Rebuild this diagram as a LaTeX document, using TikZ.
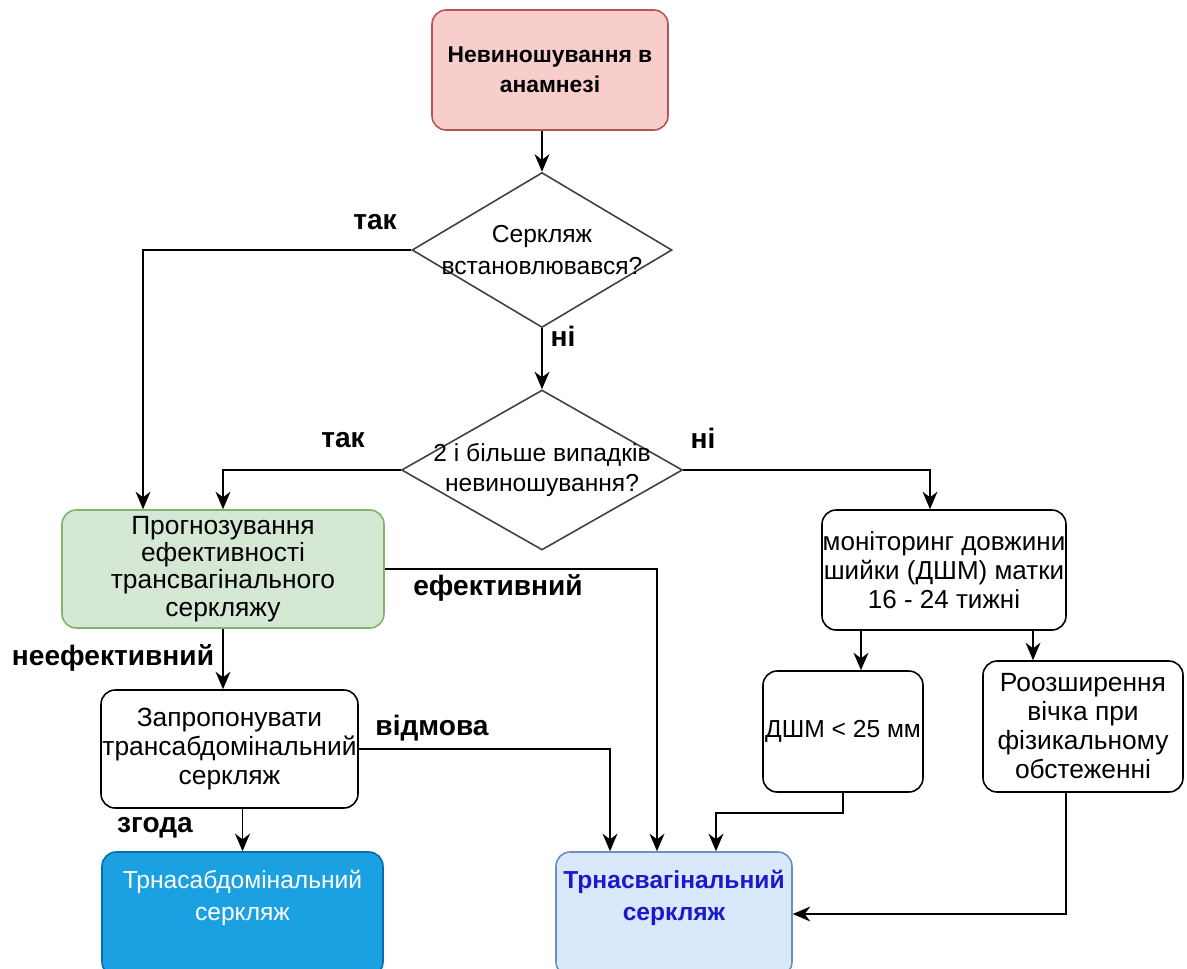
\documentclass[tikz,border=0pt]{standalone}
\usepackage{fontspec}
\setmainfont{Liberation Sans}
\usetikzlibrary{shapes.geometric,arrows.meta}

\definecolor{pinkfill}{HTML}{F8CECC}
\definecolor{pinkdraw}{HTML}{B85450}
\definecolor{greenfill}{HTML}{D5E8D4}
\definecolor{greendraw}{HTML}{82B366}
\definecolor{bluefill}{HTML}{1BA1E2}
\definecolor{bluedraw}{HTML}{006EAF}
\definecolor{paleblue}{HTML}{DAE8FC}
\definecolor{paledraw}{HTML}{6C8EBF}
\definecolor{bluetext}{HTML}{1A1ACC}

\begin{document}
\begin{tikzpicture}[x=0.02cm, y=-0.02cm, >={Stealth[length=10pt,width=8.5pt]},
		box_style/.style={rectangle,rounded corners=8pt,draw=black,line width=0.9pt,fill=white,
			align=center,inner sep=0pt,font=\fontsize{15}{16.5}\selectfont},
		diamond_style/.style={diamond,draw=black!75,line width=0.9pt,inner sep=0pt},
		text_style/.style={align=center,inner sep=0pt,font=\fontsize{14}{18.5}\selectfont},
		label_style/.style={inner sep=0pt,font=\bfseries\fontsize{16}{18}\selectfont},
		edge_style/.style={draw=black,line width=1pt,->}]

		\useasboundingbox (0,0) rectangle (1187,968);
		\clip (0,0) rectangle (1187,968);

		\node[box_style,fill=pinkfill,draw=pinkdraw,font=\bfseries\fontsize{13}{17}\selectfont,
			minimum width=4.72cm,minimum height=2.4cm] (hist) at (550,70) {Невиношування в\\анамнезі};
		\node[diamond_style,minimum width=5.2cm,minimum height=3.1cm] (d1) at (542,250) {};
		\node[text_style] (d1txt) at (d1) {Серкляж\\встановлювався?};
		\node[diamond_style,minimum width=5.62cm,minimum height=3.2cm] (d2) at (542,470) {};
		\node[text_style,font=\fontsize{14}{17}\selectfont] (d2txt) at (d2) {2 і більше випадків\\невиношування?};
		\node[box_style,fill=greenfill,draw=greendraw,font=\fontsize{15}{15.5}\selectfont,
			minimum width=6.44cm,minimum height=2.36cm] (prog) at (223,569)
			{Прогнозування\\ефективності\\трансвагінального\\серкляжу};
		\node[box_style,minimum width=5.14cm,minimum height=2.36cm] (offer) at (229.5,749)
			{Запропонувати\\трансабдомінальний\\серкляж};
		\node[box_style,fill=bluefill,draw=bluedraw,minimum width=5.62cm,minimum height=2.48cm] (abd) at (242.5,914) {};
		\node[text_style,text=white] (abdtxt) at (242.5,898) {Трнасабдомінальний\\серкляж};
		\node[box_style,fill=paleblue,draw=paledraw,minimum width=4.72cm,minimum height=2.48cm] (vag) at (674,914) {};
		\node[text_style,text=bluetext,font=\bfseries\fontsize{14}{18}\selectfont] (vagtxt) at (674,898) {Трнасвагінальний\\серкляж};
		\node[box_style,font=\fontsize{14.8}{16.5}\selectfont,minimum width=4.88cm,minimum height=2.4cm] (mon) at (944,570)
			{моніторинг довжини\\шийки (ДШМ) матки\\16 - 24 тижні};
		\node[box_style,font=\fontsize{14}{16}\selectfont,minimum width=3.2cm,minimum height=2.42cm] (dshm) at (843,731.5) {ДШМ < 25 мм};
		\node[box_style,minimum width=4.0cm,minimum height=2.62cm] (dil) at (1083,726.5)
			{Роозширення\\вічка при\\фізикальному\\обстеженні};

		% labels
		\node[label_style] (yes1) at (375,222) {так};
		\node[label_style] (no1) at (563,336) {ні};
		\node[label_style] (yes2) at (343,440) {так};
		\node[label_style] (no2) at (703,438) {ні};
		\node[label_style] (eff) at (498,588) {ефективний};
		\node[label_style] (ineff) at (113,658) {неефективний};
		\node[label_style] (refuse) at (432,728) {відмова};
		\node[label_style] (agree) at (155,828) {згода};

		\draw[edge_style] (hist.south -| d1.north) -- (d1.north);
		\draw[edge_style] (d1.west) -| ([xshift=-1.6cm]prog.north);
		\draw[edge_style] (d1.south) -- (d2.north);
		\draw[edge_style] (d2.west) -| (prog.north);
		\draw[edge_style] (d2.east) -| ([xshift=-0.28cm]mon.north);
		\draw[edge_style] (prog.east) -| ([xshift=-0.34cm]vag.north);
		\draw[edge_style] (prog.south) -- (prog.south |- offer.north);
		\draw[edge_style] (offer.east) -| ([xshift=-1.28cm]vag.north);
		\draw[edge_style] (abd.north |- offer.south) -- (abd.north);
		\draw[edge_style] ([xshift=0.36cm]dshm.north |- mon.south) -- ([xshift=0.36cm]dshm.north);
		\draw[edge_style] ([xshift=-1.0cm]dil.north |- mon.south) -- ([xshift=-1.0cm]dil.north);
		\draw[edge_style] (dshm.south) -- ++(0,20) -| ([xshift=0.84cm]vag.north);
		\draw[edge_style] ([xshift=-0.34cm]dil.south) |- (vag.east);
\end{tikzpicture}
\end{document}
